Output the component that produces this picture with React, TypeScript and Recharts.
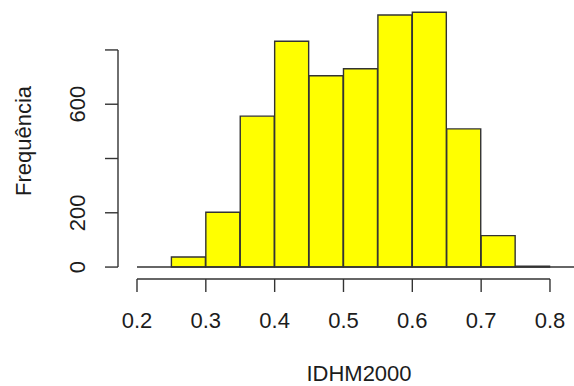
import { ComposedChart, Bar, XAxis, YAxis, ReferenceLine } from "recharts";

// histogram bins of IDHM2000 (width 0.05)
const binStarts = [0.2, 0.25, 0.3, 0.35, 0.4, 0.45, 0.5, 0.55, 0.6, 0.65, 0.7, 0.75, 0.8];
const counts = [0, 37, 202, 556, 832, 705, 731, 929, 939, 509, 116, 3, 0];
const binWidth = 0.05;

const xTicks = [0.2, 0.3, 0.4, 0.5, 0.6, 0.7, 0.8];
const yTicks = [0, 200, 400, 600, 800];
// R drops the labels that would overlap
const yTickLabels = [0, 200, 600];

const data = binStarts.map((s, i) => ({ mid: s + binWidth / 2, count: counts[i] }));

const FONT = "'Liberation Sans', Arial, sans-serif";
const INK = "#1c1c1c";
const X_DOMAIN: [number, number] = [0.1724, 0.8349];
const Y_DOMAIN: [number, number] = [-44, 973];

const XTick = (props: any) => {
  const { x, y, payload } = props;
  return (
    <text x={x} y={y + 34} textAnchor="middle" fontFamily={FONT} fontSize={22} fill={INK}>
      {payload.value}
    </text>
  );
};

const YTick = (props: any) => {
  const { x, y, payload } = props;
  if (!yTickLabels.includes(payload.value)) return null;
  const cx = x - 25;
  return (
    <text
      x={cx}
      y={y}
      transform={`rotate(-90 ${cx} ${y})`}
      textAnchor="middle"
      dominantBaseline="central"
      fontFamily={FONT}
      fontSize={22}
      fill={INK}
    >
      {payload.value}
    </text>
  );
};

export default function App() {
  return (
    <div style={{ position: "absolute", left: 0, top: 0, background: "#fff" }}>
      <ComposedChart
        width={574}
        height={386}
        data={data}
        margin={{ top: 3, right: 0, bottom: 0, left: 0 }}
        barCategoryGap={0}
        barGap={0}
      >
        <XAxis
          dataKey="mid"
          type="number"
          domain={X_DOMAIN}
          allowDataOverflow
          ticks={xTicks}
          interval={0}
          axisLine={false}
          tickLine={{ stroke: "#333", strokeWidth: 1.4 }}
          tickSize={13}
          tick={<XTick />}
          height={107}
          label={{
            content: () => (
              <text x={359} y={381} textAnchor="middle" fontFamily={FONT} fontSize={22} fill={INK}>
                IDHM2000
              </text>
            ),
          }}
        />
        <YAxis
          type="number"
          domain={Y_DOMAIN}
          allowDataOverflow
          ticks={yTicks}
          interval={0}
          axisLine={false}
          tickLine={{ stroke: "#333", strokeWidth: 1.4 }}
          tickSize={13}
          tick={<YTick />}
          width={118}
          label={{
            content: () => (
              <text
                x={23}
                y={141}
                transform="rotate(-90 23 141)"
                textAnchor="middle"
                dominantBaseline="central"
                fontFamily={FONT}
                fontSize={22}
                fill={INK}
              >
                Frequência
              </text>
            ),
          }}
        />
        <ReferenceLine
          segment={[{ x: X_DOMAIN[0], y: 0 }, { x: X_DOMAIN[0], y: 800 }]}
          stroke="#333"
          strokeWidth={1.4}
          ifOverflow="visible"
        />
        <ReferenceLine
          segment={[{ x: 0.2, y: Y_DOMAIN[0] }, { x: 0.8, y: Y_DOMAIN[0] }]}
          stroke="#333"
          strokeWidth={1.4}
          ifOverflow="visible"
        />
        <ReferenceLine
          segment={[{ x: 0.2, y: 0 }, { x: 0.85, y: 0 }]}
          stroke="#333"
          strokeWidth={1.4}
          ifOverflow="visible"
        />
        <Bar
          dataKey="count"
          fill="#ffff00"
          stroke="#333"
          strokeWidth={1.4}
          isAnimationActive={false}
        />
      </ComposedChart>
    </div>
  );
}
